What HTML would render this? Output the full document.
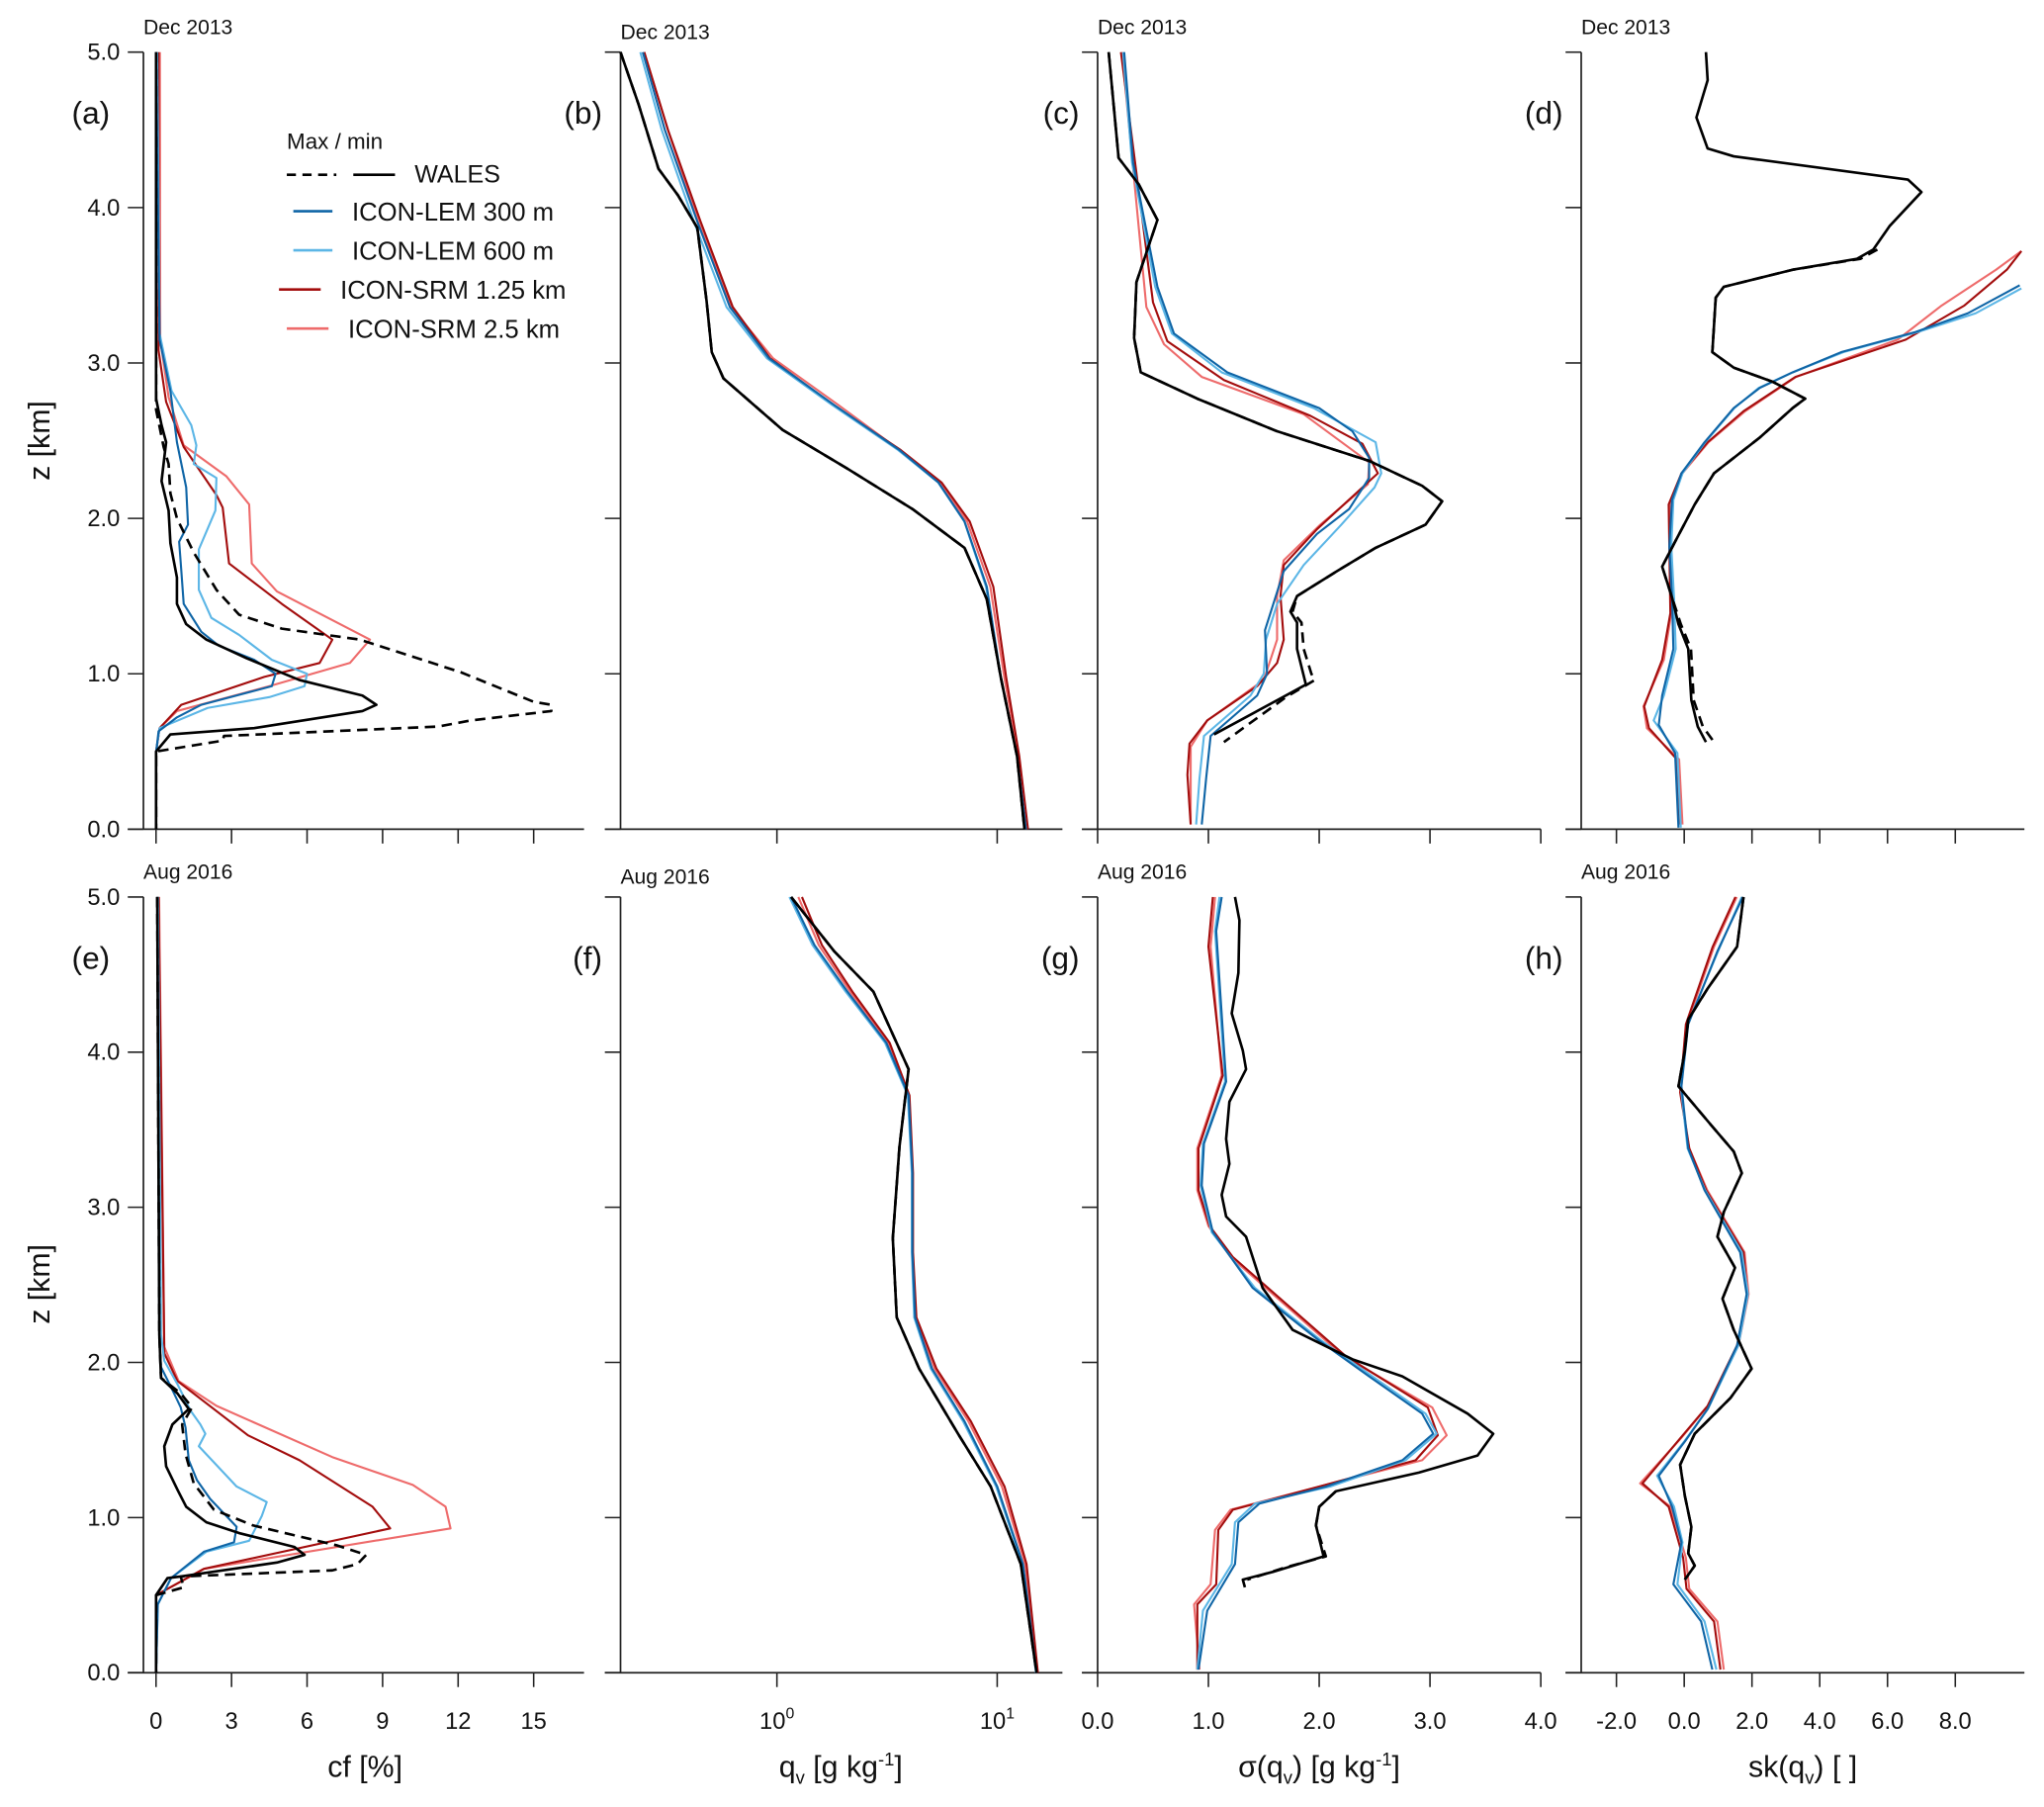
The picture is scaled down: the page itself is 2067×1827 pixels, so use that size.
<!DOCTYPE html>
<html><head><meta charset="utf-8"><style>
html,body{margin:0;padding:0;background:#fff;}
svg{display:block;font-family:"Liberation Sans",Arial,sans-serif;}
</style></head><body>
<svg id="fig" width="2067" height="1827" viewBox="0 0 1568 1386" xmlns="http://www.w3.org/2000/svg"></svg>
<script>
// ---------- data: [z (km), value] ----------
const a_walesMin=[[5,0],[2.77,0],[2.6,0.22],[2.49,0.4],[2.24,0.22],[2.05,0.5],[1.84,0.57],[1.62,0.83],[1.45,0.83],[1.32,1.2],[1.22,2.0],[1.1,3.6],[0.96,5.7],[0.86,8.2],[0.8,8.75],[0.76,8.2],[0.65,3.9],[0.61,0.57],[0.5,0],[0,0]];
const a_walesMax=[[5,0],[2.7,0],[2.46,0.3],[2.35,0.5],[2.16,0.57],[2.0,0.83],[1.78,1.5],[1.54,2.4],[1.38,3.3],[1.29,5],[1.22,8.1],[1.01,12.1],[0.82,15],[0.8,15.7],[0.76,15.7],[0.7,12.5],[0.66,11.2],[0.6,2.7],[0.57,2.65],[0.5,0],[0,0]];
const a_lem300=[[5,0],[3.15,0.14],[2.82,0.57],[2.49,0.83],[2.2,1.2],[1.96,1.27],[1.85,0.92],[1.67,1.0],[1.45,1.1],[1.27,1.8],[1.18,2.5],[1.09,3.9],[1.0,4.75],[0.92,4.6],[0.8,1.8],[0.72,0.83],[0.63,0.1],[0.49,0],[0,0]];
const a_lem600=[[5,0.05],[3.19,0.14],[2.82,0.62],[2.6,1.4],[2.47,1.6],[2.35,1.5],[2.26,2.4],[2.05,2.36],[1.8,1.7],[1.54,1.7],[1.36,2.2],[1.25,3.3],[1.09,4.6],[1.0,6.0],[0.92,5.9],[0.85,4.5],[0.78,2.05],[0.65,0.14],[0.5,0],[0,0]];
const a_srm125=[[5,0.1],[3.08,0.1],[2.75,0.4],[2.46,1.1],[2.15,2.4],[2.07,2.65],[1.71,2.9],[1.45,5.0],[1.22,7.0],[1.07,6.5],[0.98,4.3],[0.8,1.0],[0.65,0.14],[0.5,0],[0,0]];
const a_srm25=[[5,0.15],[3.15,0.17],[2.78,0.5],[2.47,1.1],[2.27,2.8],[2.09,3.7],[1.71,3.8],[1.53,4.8],[1.22,8.5],[1.07,7.7],[0.92,4.5],[0.76,0.83],[0.65,0.14],[0.5,0],[0,0]];

const b_wales=[[5,0.195],[4.66,0.236],[4.25,0.29],[4.08,0.355],[3.87,0.435],[3.4,0.479],[3.07,0.506],[2.9,0.572],[2.57,1.06],[2.32,2.09],[2.06,4.12],[1.81,7.11],[1.48,8.97],[0.97,10.4],[0.47,12.3],[0,13.3]];
const b_lem300=[[5,0.246],[4.5,0.31],[3.91,0.435],[3.36,0.612],[3.03,0.921],[2.73,1.82],[2.44,3.6],[2.23,5.42],[1.98,7.11],[1.56,8.97],[0.97,10.4],[0.47,12.3],[0,13.5]];
const b_lem600=[[5,0.24],[4.5,0.30],[3.91,0.42],[3.36,0.59],[3.03,0.90],[2.73,1.78],[2.44,3.55],[2.23,5.4],[1.98,7.1],[1.56,8.9],[0.97,10.4],[0.47,12.3],[0,13.5]];
const b_srm125=[[5,0.25],[4.5,0.32],[3.91,0.45],[3.36,0.63],[3.03,0.93],[2.73,1.80],[2.44,3.65],[2.23,5.6],[1.98,7.5],[1.56,9.6],[0.97,11.0],[0.47,12.6],[0,13.8]];
const b_srm25=[[5,0.25],[4.5,0.32],[3.91,0.44],[3.36,0.62],[3.03,0.96],[2.73,1.9],[2.44,3.6],[2.23,5.5],[1.98,7.3],[1.56,9.3],[0.97,10.8],[0.47,12.5],[0,13.7]];

const c_walesMin=[[5,0.1],[4.32,0.19],[4.15,0.37],[3.92,0.54],[3.52,0.35],[3.16,0.33],[2.94,0.39],[2.77,0.9],[2.56,1.62],[2.37,2.45],[2.21,2.93],[2.11,3.11],[1.96,2.96],[1.81,2.51],[1.66,2.16],[1.5,1.8],[1.4,1.74],[1.33,1.8],[1.16,1.8],[0.93,1.88],[0.83,1.62],[0.61,1.05]];
const c_walesMax=[[5,0.1],[4.32,0.19],[4.15,0.37],[3.92,0.54],[3.52,0.35],[3.16,0.33],[2.94,0.39],[2.77,0.9],[2.56,1.62],[2.37,2.45],[2.21,2.93],[2.11,3.11],[1.96,2.96],[1.81,2.51],[1.66,2.16],[1.5,1.8],[1.4,1.76],[1.33,1.84],[1.16,1.86],[1.0,1.93],[0.96,1.96],[0.85,1.7],[0.56,1.14]];
const c_lem300=[[5,0.24],[4.29,0.32],[3.49,0.54],[3.19,0.69],[2.94,1.17],[2.71,2.0],[2.56,2.3],[2.39,2.45],[2.26,2.45],[2.06,2.27],[1.9,1.98],[1.66,1.68],[1.28,1.51],[1.0,1.53],[0.86,1.44],[0.6,1.02],[0.33,0.98],[0.03,0.94]];
const c_lem600=[[5,0.23],[4.29,0.31],[3.49,0.52],[3.19,0.67],[2.94,1.12],[2.71,1.95],[2.49,2.51],[2.29,2.56],[2.2,2.5],[1.96,2.2],[1.7,1.86],[1.45,1.62],[1.22,1.52],[1.0,1.5],[0.86,1.38],[0.6,0.96],[0.33,0.92],[0.03,0.89]];
const c_srm125=[[5,0.21],[3.39,0.5],[3.14,0.63],[2.89,1.14],[2.66,1.92],[2.48,2.39],[2.29,2.53],[2.2,2.39],[1.93,1.98],[1.7,1.68],[1.5,1.65],[1.22,1.68],[1.07,1.62],[0.92,1.44],[0.7,0.99],[0.55,0.83],[0.35,0.81],[0.03,0.84]];
const c_srm25=[[5,0.22],[3.36,0.44],[3.12,0.6],[2.91,0.94],[2.67,1.86],[2.36,2.45],[2.22,2.44],[1.96,2.01],[1.73,1.68],[1.5,1.62],[1.22,1.62],[0.96,1.5],[0.7,0.99],[0.53,0.84],[0.03,0.84]];

const d_walesMin=[[5,0.64],[4.82,0.69],[4.58,0.36],[4.38,0.69],[4.33,1.46],[4.18,6.6],[4.1,7.0],[3.88,6.06],[3.73,5.58],[3.67,5.1],[3.6,3.2],[3.49,1.17],[3.42,0.93],[3.07,0.83],[2.97,1.46],[2.88,2.6],[2.77,3.57],[2.71,3.2],[2.52,2.23],[2.29,0.88],[2.09,0.31],[1.85,-0.27],[1.69,-0.65],[1.49,-0.36],[1.32,-0.17],[1.16,0.12],[0.83,0.21],[0.66,0.4],[0.56,0.64]];
const d_walesMax=[[3.73,5.7],[3.67,5.2],[3.6,3.2],[3.49,1.17],[3.42,0.93],[3.07,0.83],[2.97,1.46],[2.88,2.6],[2.77,3.57],[2.71,3.2],[2.52,2.23],[2.29,0.88],[2.09,0.31],[1.85,-0.27],[1.69,-0.65],[1.49,-0.36],[1.32,-0.1],[1.16,0.2],[0.83,0.28],[0.66,0.55],[0.56,0.88]];
const d_lem300=[[0.01,-0.17],[0.49,-0.27],[0.67,-0.75],[0.86,-0.65],[1.16,-0.32],[1.49,-0.36],[1.82,-0.44],[2.12,-0.36],[2.29,-0.08],[2.49,0.6],[2.71,1.46],[2.84,2.23],[2.94,3.2],[3.07,4.63],[3.2,6.83],[3.32,8.37],[3.5,9.9]];
const d_lem600=[[0.01,-0.1],[0.49,-0.2],[0.7,-0.9],[0.86,-0.6],[1.16,-0.25],[1.49,-0.3],[1.82,-0.38],[2.12,-0.32],[2.29,-0.05],[2.49,0.62],[2.71,1.48],[2.84,2.2],[2.94,3.2],[3.07,4.7],[3.2,6.9],[3.32,8.6],[3.48,9.95]];
const d_srm125=[[0.03,-0.12],[0.45,-0.22],[0.65,-1.04],[0.79,-1.18],[1.09,-0.65],[1.39,-0.41],[2.09,-0.46],[2.29,-0.08],[2.49,0.69],[2.69,1.75],[2.91,3.28],[3.15,6.54],[3.37,8.27],[3.6,9.52],[3.72,9.95]];
const d_srm25=[[0.03,-0.05],[0.45,-0.15],[0.65,-1.1],[0.79,-1.2],[1.09,-0.6],[1.39,-0.38],[2.09,-0.42],[2.29,-0.05],[2.49,0.72],[2.69,1.8],[2.91,3.3],[3.15,6.3],[3.37,7.6],[3.6,9.2],[3.72,9.95]];

const e_walesMin=[[5,0.05],[2.18,0.13],[1.9,0.2],[1.8,0.85],[1.7,1.3],[1.6,0.65],[1.46,0.33],[1.33,0.4],[1.18,0.85],[1.07,1.2],[0.97,2.0],[0.9,3.3],[0.81,5.5],[0.76,5.9],[0.71,4.8],[0.62,0.98],[0.61,0.46],[0.5,0],[0,0]];
const e_walesMax=[[5,0.05],[2.18,0.13],[1.9,0.2],[1.8,0.98],[1.71,1.43],[1.6,1.04],[1.41,1.17],[1.22,1.5],[1.05,2.3],[0.95,3.85],[0.82,7.2],[0.76,8.35],[0.7,8.0],[0.66,7.0],[0.62,0.98],[0.55,1.1],[0.5,0],[0,0]];
const e_lem300=[[5,0.05],[2.18,0.13],[1.97,0.2],[1.84,0.6],[1.71,0.98],[1.58,1.17],[1.37,1.3],[1.24,1.63],[1.12,2.15],[0.94,3.2],[0.84,3.1],[0.78,1.9],[0.61,0.6],[0.44,0.07],[0,0]];
const e_lem600=[[5,0.08],[2.18,0.2],[2.01,0.33],[1.86,0.85],[1.69,1.37],[1.6,1.76],[1.54,1.96],[1.46,1.7],[1.2,3.2],[1.1,4.4],[1.01,4.2],[0.85,3.7],[0.78,2.0],[0.61,0.6],[0.44,0.07],[0,0]];
const e_srm125=[[5,0.1],[2.06,0.33],[1.88,0.85],[1.53,3.65],[1.37,5.7],[1.07,8.6],[0.93,9.3],[0.67,1.9],[0.5,0],[0,0]];
const e_srm25=[[5,0.12],[2.1,0.33],[1.88,0.9],[1.72,2.4],[1.39,7.0],[1.21,10.2],[1.07,11.5],[0.93,11.7],[0.67,1.9],[0.5,0],[0,0]];

const f_wales=[[5,1.16],[4.65,1.82],[4.39,2.74],[3.89,3.96],[3.39,3.6],[2.8,3.36],[2.29,3.5],[1.96,4.42],[1.54,6.64],[1.2,9.34],[0.7,12.8],[0,15.1]];
const f_lem300=[[5,1.16],[4.69,1.48],[4.39,2.09],[4.06,3.14],[3.72,3.96],[3.22,4.12],[2.71,4.12],[2.29,4.24],[1.96,5.06],[1.62,7.11],[1.2,10],[0.7,13.1],[0,15.1]];
const f_lem600=[[5,1.14],[4.69,1.45],[4.39,2.05],[4.06,3.1],[3.72,3.93],[3.22,4.1],[2.71,4.1],[2.29,4.2],[1.96,5.0],[1.62,7.0],[1.2,9.9],[0.7,13.0],[0,15.0]];
const f_srm125=[[5,1.3],[4.69,1.6],[4.39,2.2],[4.06,3.25],[3.72,4.0],[3.22,4.15],[2.71,4.15],[2.29,4.3],[1.96,5.3],[1.62,7.6],[1.2,10.8],[0.7,13.6],[0,15.3]];
const f_srm25=[[5,1.25],[4.69,1.55],[4.39,2.15],[4.06,3.2],[3.72,3.98],[3.22,4.13],[2.71,4.13],[2.29,4.28],[1.96,5.2],[1.62,7.4],[1.2,10.5],[0.7,13.4],[0,15.2]];

const g_walesMin=[[5,1.24],[4.85,1.28],[4.51,1.27],[4.25,1.21],[4.01,1.31],[3.89,1.34],[3.68,1.19],[3.44,1.16],[3.28,1.19],[3.08,1.12],[2.94,1.16],[2.81,1.34],[2.48,1.49],[2.21,1.76],[2.02,2.3],[1.91,2.75],[1.67,3.34],[1.54,3.57],[1.4,3.43],[1.29,2.9],[1.17,2.15],[1.07,2.0],[0.95,1.97],[0.75,2.04],[0.65,1.58],[0.6,1.31],[0.55,1.33]];
const g_walesMax=[[1.17,2.15],[1.07,2.0],[0.95,1.97],[0.75,2.06],[0.68,1.7],[0.6,1.35]];
const g_lem300=[[5,1.12],[4.78,1.07],[3.81,1.16],[3.41,0.96],[3.14,0.94],[2.84,1.04],[2.48,1.4],[2.14,2.0],[1.91,2.45],[1.67,2.93],[1.54,3.03],[1.37,2.75],[1.2,2.06],[1.09,1.46],[0.97,1.27],[0.7,1.24],[0.4,0.99],[0.02,0.91]];
const g_lem600=[[5,1.1],[4.78,1.06],[3.81,1.15],[3.41,0.95],[3.14,0.93],[2.84,1.03],[2.48,1.42],[2.14,2.02],[1.91,2.48],[1.67,2.96],[1.54,3.06],[1.37,2.78],[1.2,2.1],[1.09,1.42],[0.97,1.24],[0.7,1.21],[0.4,0.95],[0.02,0.9]];
const g_srm125=[[5,1.04],[4.68,1.0],[3.85,1.13],[3.38,0.91],[3.11,0.91],[2.88,1.01],[2.68,1.22],[2.04,2.24],[1.71,2.98],[1.53,3.07],[1.37,2.87],[1.2,2.0],[1.05,1.22],[0.92,1.09],[0.57,1.07],[0.44,0.9],[0.02,0.9]];
const g_srm25=[[5,1.06],[4.68,1.02],[3.85,1.12],[3.38,0.9],[3.11,0.9],[2.88,1.0],[2.68,1.2],[2.04,2.22],[1.71,3.02],[1.53,3.15],[1.37,2.93],[1.2,2.0],[1.05,1.2],[0.92,1.06],[0.57,1.02],[0.44,0.87],[0.02,0.92]];

const h_wales=[[5,1.75],[4.68,1.56],[4.41,0.69],[4.21,0.12],[4.01,0.02],[3.78,-0.17],[3.53,0.79],[3.36,1.46],[3.22,1.7],[2.97,1.17],[2.81,0.98],[2.61,1.5],[2.41,1.13],[2.21,1.46],[1.96,1.99],[1.77,1.36],[1.54,0.31],[1.34,-0.12],[1.14,0.02],[0.94,0.21],[0.77,0.12],[0.69,0.31],[0.6,0.02]];
const h_lem300=[[5,1.73],[4.65,0.98],[4.18,0.12],[3.78,-0.08],[3.38,0.12],[3.11,0.6],[2.71,1.65],[2.44,1.84],[2.11,1.56],[1.7,0.69],[1.49,0.02],[1.27,-0.75],[1.07,-0.36],[0.84,-0.08],[0.57,-0.32],[0.33,0.5],[0.02,0.83]];
const h_lem600=[[5,1.7],[4.65,1.0],[4.18,0.1],[3.78,-0.1],[3.38,0.1],[3.11,0.62],[2.71,1.7],[2.44,1.88],[2.11,1.6],[1.7,0.7],[1.49,0.0],[1.27,-0.8],[1.07,-0.3],[0.84,-0.05],[0.57,-0.2],[0.33,0.6],[0.02,0.95]];
const h_srm125=[[5,1.51],[4.68,0.84],[4.18,0.05],[3.74,-0.12],[3.38,0.15],[3.11,0.65],[2.71,1.75],[2.44,1.86],[2.11,1.56],[1.72,0.69],[1.51,-0.12],[1.22,-1.23],[1.07,-0.46],[0.74,-0.03],[0.54,0.07],[0.33,0.88],[0.02,1.07]];
const h_srm25=[[5,1.55],[4.68,0.88],[4.18,0.08],[3.74,-0.1],[3.38,0.15],[3.11,0.68],[2.71,1.78],[2.44,1.9],[2.11,1.6],[1.72,0.7],[1.51,-0.1],[1.22,-1.3],[1.07,-0.4],[0.74,0.05],[0.54,0.15],[0.33,0.98],[0.02,1.17]];

const cfTicks=[0,3,6,9,12,15];
const qvTicks=[1,10];
const sdTicks=[0,1,2,3,4];
const skTicks=[-2,0,2,4,6,8];
const zTicks=[0,1,2,3,4,5];

// ---------- layout ----------
const NS="http://www.w3.org/2000/svg";
const svg=document.getElementById('fig');
function el(tag,attrs,parent){const e=document.createElementNS(NS,tag);for(const k in attrs)e.setAttribute(k,attrs[k]);(parent||svg).appendChild(e);return e;}
const COL={wales:'#000',lem300:'#0f65a6',lem600:'#5cb6e6',srm125:'#a30d0d',srm25:'#ee6b6b'};
const cols=[
 {x0:110,x1:448,min:-0.5,max:17,log:false,ticks:cfTicks,fmt:v=>String(v)},
 {x0:476,x1:815,min:-0.710,max:1.296,log:true,ticks:qvTicks},
 {x0:842,x1:1182,min:0,max:4,log:false,ticks:sdTicks,fmt:v=>v.toFixed(1)},
 {x0:1213,x1:1553,min:-3.04,max:10.04,log:false,ticks:skTicks,fmt:v=>v.toFixed(1)}];
const rows=[{yTop:40,yBot:636,title:'Dec 2013'},{yTop:688,yBot:1283,title:'Aug 2016'}];
function xs(c,v){const t=c.log?Math.log10(v):v;return c.x0+(t-c.min)/(c.max-c.min)*(c.x1-c.x0);}
function ys(r,z){return r.yBot-(z/5)*(r.yBot-r.yTop);}

const panels=[
 {id:'a',c:0,r:0,s:[['srm25',a_srm25],['srm125',a_srm125],['lem600',a_lem600],['lem300',a_lem300],['wales',a_walesMax,true],['wales',a_walesMin]]},
 {id:'b',c:1,r:0,s:[['srm25',b_srm25],['srm125',b_srm125],['lem600',b_lem600],['lem300',b_lem300],['wales',b_wales,true],['wales',b_wales]]},
 {id:'c',c:2,r:0,s:[['srm25',c_srm25],['srm125',c_srm125],['lem600',c_lem600],['lem300',c_lem300],['wales',c_walesMax,true],['wales',c_walesMin]]},
 {id:'d',c:3,r:0,s:[['srm25',d_srm25],['srm125',d_srm125],['lem600',d_lem600],['lem300',d_lem300],['wales',d_walesMax,true],['wales',d_walesMin]]},
 {id:'e',c:0,r:1,s:[['srm25',e_srm25],['srm125',e_srm125],['lem600',e_lem600],['lem300',e_lem300],['wales',e_walesMax,true],['wales',e_walesMin]]},
 {id:'f',c:1,r:1,s:[['srm25',f_srm25],['srm125',f_srm125],['lem600',f_lem600],['lem300',f_lem300],['wales',f_wales,true],['wales',f_wales]]},
 {id:'g',c:2,r:1,s:[['srm25',g_srm25],['srm125',g_srm125],['lem600',g_lem600],['lem300',g_lem300],['wales',g_walesMax,true],['wales',g_walesMin]]},
 {id:'h',c:3,r:1,s:[['srm25',h_srm25],['srm125',h_srm125],['lem600',h_lem600],['lem300',h_lem300],['wales',h_wales,true],['wales',h_wales]]}];

const TXT='#111';
panels.forEach(p=>{
  const c=cols[p.c], r=rows[p.r];
  const g=el('g',{});
  
  
  const tl=p.c===0?98:c.x0-12;
  const sp=el('line',{x1:c.x0,y1:r.yTop,x2:c.x0,y2:r.yBot,stroke:'#222','stroke-width':1.3},g);
  
  
  const bl=el('line',{x1:tl,y1:r.yBot,x2:c.x1,y2:r.yBot,stroke:'#222','stroke-width':1.3},g);
  
  
  zTicks.forEach(z=>{
    const y=ys(r,z);
    const t=el('line',{x1:tl,y1:y,x2:c.x0,y2:y,stroke:'#222','stroke-width':1.2},g);
    
    
    if(p.c===0){
      const lb=el('text',{x:92,y:y+6,'text-anchor':'end','font-size':18,fill:TXT},g);
      lb.textContent=z.toFixed(1);
      
      
    }
  });
  c.ticks.forEach(v=>{
    const x=xs(c,v);
    const t=el('line',{x1:x,y1:r.yBot,x2:x,y2:r.yBot+11,stroke:'#222','stroke-width':1.2},g);
    
    
    if(p.r===1){
      const lb=el('text',{x:x,y:1326,'text-anchor':'middle','font-size':18,fill:TXT},g);
      
      
      if(c.log){lb.textContent='10';const s=el('tspan',{dy:-8,'font-size':12},lb);s.textContent=String(Math.round(Math.log10(v)));}
      else lb.textContent=c.fmt(v);
    }
  });
  const tt=el('text',{x:c.x0,y:r.yTop-(p.c===1?10:14),'font-size':16,fill:TXT},g);
  tt.textContent=r.title;
  
  
  const pl=el('text',{x:p.c===0?c.x0-55:c.x0-14,y:r.yTop+55,'font-size':24,fill:TXT,'text-anchor':p.c===0?'start':'end'},g);
  pl.textContent='('+p.id+')';
  
  
  p.s.forEach(([key,data,dashed])=>{
    const d=data.map((pt,i)=>(i?'L':'M')+xs(c,pt[1]).toFixed(1)+' '+ys(r,pt[0]).toFixed(1)).join(' ');
    const path=el('path',{d:d,fill:'none',stroke:COL[key],'stroke-width':key==='wales'?2:1.6,'stroke-linejoin':'round'},g);
    if(dashed) path.setAttribute('stroke-dasharray','8 5');
    
    
  });
});

[[338],[985]].forEach(([cy])=>{
  const t=el('text',{x:0,y:0,'font-size':23,fill:TXT,'text-anchor':'middle',transform:'translate(38,'+cy+') rotate(-90)'});
  t.textContent='z [km]';
  
  
});
const cfT=el('text',{x:280,y:1363,'font-size':23,fill:TXT,'text-anchor':'middle'});
cfT.textContent='cf [%]';


const q=el('text',{x:645,y:1363,'font-size':23,fill:TXT,'text-anchor':'middle'});


q.innerHTML='q<tspan font-size="14" dy="5">v</tspan><tspan dy="-5"> [g kg</tspan><tspan font-size="14" dy="-9">-1</tspan><tspan dy="9">]</tspan>';
const s1=el('text',{x:1012,y:1363,'font-size':23,fill:TXT,'text-anchor':'middle'});


s1.innerHTML='σ(q<tspan font-size="14" dy="5">v</tspan><tspan dy="-5">) [g kg</tspan><tspan font-size="14" dy="-9">-1</tspan><tspan dy="9">]</tspan>';
const s2=el('text',{x:1383,y:1363,'font-size':23,fill:TXT,'text-anchor':'middle'});


s2.innerHTML='sk(q<tspan font-size="14" dy="5">v</tspan><tspan dy="-5">) [ ]</tspan>';

const lg=el('g',{});


const lt=el('text',{x:220,y:114,'font-size':17,fill:TXT},lg);lt.textContent='Max / min';


const ld=el('line',{x1:220,y1:134,x2:258,y2:134,stroke:'#000','stroke-width':2,'stroke-dasharray':'7 5'},lg);


const ls=el('line',{x1:271,y1:134,x2:303,y2:134,stroke:'#000','stroke-width':2},lg);


const lw=el('text',{x:318,y:140,'font-size':19,fill:TXT},lg);lw.textContent='WALES';


[['lem300','ICON-LEM 300 m',169,225,255,270],['lem600','ICON-LEM 600 m',199,225,255,270],['srm125','ICON-SRM 1.25 km',229,214,246,261],['srm25','ICON-SRM 2.5 km',259,220,252,267]].forEach(([k,label,y,a,b,tx])=>{
  const l=el('line',{x1:a,y1:y-7,x2:b,y2:y-7,stroke:COL[k],'stroke-width':2},lg);
  
  
  const t=el('text',{x:tx,y:y,'font-size':19.5,fill:TXT},lg);t.textContent=label;
  
  
});
</script>
</body></html>
